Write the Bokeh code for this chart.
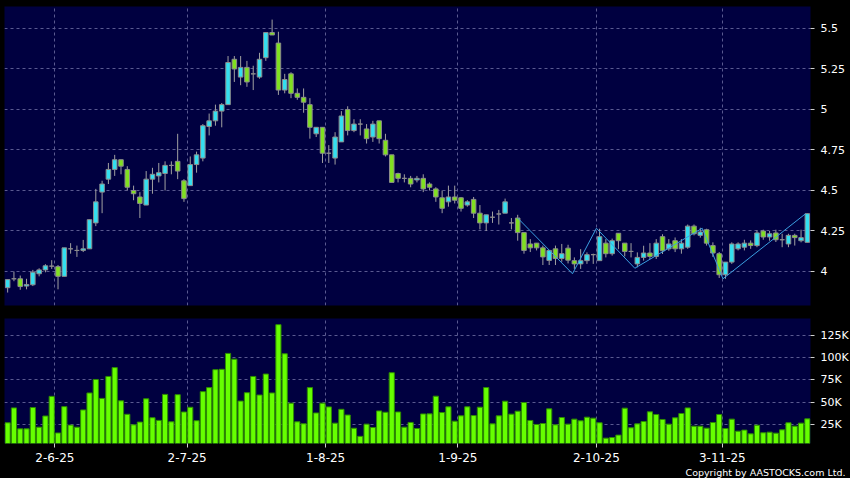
from bokeh.plotting import figure
from bokeh.layouts import column
from bokeh.models import FixedTicker, Range1d, Title, ColumnDataSource
from bokeh.embed import file_html
from bokeh.resources import INLINE

# ---------------- data ----------------
opens = [3.90, 3.955, 3.955, 3.91, 3.918, 3.986, 4.01, 4.033, 4.03, 3.97,
         4.14, 4.13, 4.13, 4.14, 4.30, 4.49, 4.57, 4.63, 4.69, 4.63,
         4.50, 4.46, 4.41, 4.57, 4.59, 4.605, 4.655, 4.68, 4.56, 4.53,
         4.66, 4.70, 4.895, 4.93, 4.99, 5.03, 5.31, 5.20, 5.26, 5.22,
         5.20, 5.32, 5.475, 5.41, 5.12, 5.22, 5.10, 5.075, 5.03, 4.85,
         4.89, 4.73, 4.70, 4.80, 5.00, 4.87, 4.91, 4.88, 4.83, 4.93,
         4.81, 4.72, 4.605, 4.575, 4.575, 4.565, 4.575, 4.54, 4.51, 4.455,
         4.43, 4.46, 4.455, 4.41, 4.445, 4.36, 4.30, 4.335, 4.355, 4.36,
         4.30, 4.33, 4.24, 4.17, 4.175, 4.146, 4.068, 4.14, 4.08, 4.144,
         4.067, 4.047, 4.067, 4.104, 4.067, 4.175, 4.11, 4.236, 4.175, 4.124,
         4.047, 4.087, 4.114, 4.093, 4.215, 4.14, 4.19, 4.14, 4.15, 4.28,
         4.223, 4.258, 4.16, 4.11, 3.98, 4.058, 4.14, 4.15, 4.175, 4.16,
         4.25, 4.213, 4.238, 4.196, 4.17, 4.223, 4.19, 4.18]
highs = [3.95, 4.00, 3.975, 3.955, 4.01, 4.02, 4.045, 4.07, 4.04, 4.146,
         4.175, 4.16, 4.195, 4.32, 4.51, 4.56, 4.67, 4.72, 4.69, 4.65,
         4.53, 4.49, 4.62, 4.64, 4.67, 4.68, 4.68, 4.85, 4.57, 4.71,
         4.74, 4.91, 4.975, 5.03, 5.04, 5.33, 5.33, 5.33, 5.30, 5.27,
         5.35, 5.475, 5.555, 5.48, 5.22, 5.23, 5.13, 5.13, 5.07, 4.89,
         4.89, 4.78, 4.86, 4.99, 5.02, 4.94, 4.94, 4.91, 4.93, 4.93,
         4.85, 4.72, 4.61, 4.60, 4.59, 4.59, 4.60, 4.55, 4.52, 4.50,
         4.53, 4.53, 4.46, 4.44, 4.46, 4.41, 4.35, 4.37, 4.38, 4.45,
         4.33, 4.35, 4.24, 4.20, 4.175, 4.16, 4.13, 4.16, 4.17, 4.165,
         4.087, 4.138, 4.118, 4.11, 4.264, 4.20, 4.203, 4.236, 4.175, 4.175,
         4.118, 4.159, 4.175, 4.20, 4.23, 4.20, 4.21, 4.20, 4.29, 4.29,
         4.27, 4.264, 4.18, 4.12, 4.058, 4.18, 4.18, 4.196, 4.192, 4.254,
         4.258, 4.25, 4.258, 4.233, 4.233, 4.233, 4.258, 4.357]
lows = [3.87, 3.94, 3.887, 3.89, 3.91, 3.97, 3.995, 4.016, 3.89, 3.97,
        4.11, 4.09, 4.12, 4.14, 4.28, 4.36, 4.54, 4.59, 4.60, 4.50,
        4.44, 4.33, 4.41, 4.48, 4.55, 4.50, 4.60, 4.57, 4.43, 4.53,
        4.61, 4.68, 4.84, 4.90, 4.89, 5.03, 5.17, 5.15, 5.14, 5.12,
        5.19, 5.30, 5.46, 5.09, 5.10, 5.07, 5.06, 4.98, 4.82, 4.83,
        4.67, 4.67, 4.66, 4.80, 4.84, 4.86, 4.84, 4.79, 4.80, 4.79,
        4.71, 4.55, 4.55, 4.55, 4.52, 4.55, 4.49, 4.50, 4.43, 4.36,
        4.40, 4.42, 4.37, 4.40, 4.33, 4.26, 4.25, 4.30, 4.29, 4.36,
        4.26, 4.19, 4.11, 4.12, 4.13, 4.04, 4.04, 4.04, 4.06, 4.05,
        4.016, 4.016, 4.047, 4.047, 4.067, 4.087, 4.098, 4.138, 4.093, 4.087,
        4.026, 4.067, 4.077, 4.077, 4.108, 4.128, 4.12, 4.11, 4.14, 4.223,
        4.209, 4.16, 4.09, 3.96, 3.955, 4.047, 4.13, 4.13, 4.14, 4.15,
        4.196, 4.19, 4.182, 4.15, 4.15, 4.16, 4.18, 4.18]
closes = [3.95, 3.955, 3.907, 3.92, 3.996, 4.01, 4.035, 4.033, 3.97, 4.146,
          4.14, 4.13, 4.14, 4.32, 4.43, 4.54, 4.63, 4.69, 4.65, 4.52,
          4.48, 4.42, 4.57, 4.60, 4.61, 4.655, 4.655, 4.62, 4.45, 4.66,
          4.72, 4.90, 4.93, 4.99, 5.03, 5.29, 5.25, 5.26, 5.17, 5.22,
          5.31, 5.475, 5.46, 5.12, 5.185, 5.10, 5.075, 5.045, 4.89, 4.89,
          4.73, 4.73, 4.83, 4.96, 4.87, 4.91, 4.91, 4.82, 4.91, 4.82,
          4.72, 4.55, 4.575, 4.575, 4.54, 4.575, 4.51, 4.52, 4.46, 4.39,
          4.46, 4.44, 4.39, 4.43, 4.36, 4.30, 4.35, 4.335, 4.355, 4.43,
          4.30, 4.24, 4.13, 4.146, 4.146, 4.09, 4.13, 4.08, 4.11, 4.07,
          4.047, 4.067, 4.104, 4.104, 4.215, 4.11, 4.19, 4.19, 4.124, 4.124,
          4.087, 4.114, 4.093, 4.175, 4.128, 4.17, 4.14, 4.175, 4.28, 4.233,
          4.244, 4.175, 4.114, 3.98, 4.058, 4.17, 4.17, 4.175, 4.16, 4.238,
          4.213, 4.233, 4.196, 4.196, 4.223, 4.209, 4.209, 4.357]
volumes = [26900, 43600, 20100, 20100, 44000, 22000, 34500, 56500, 15500, 45000,
           24300, 22000, 41300, 60300, 75400, 54200, 78800, 88700, 51500, 36400,
           24600, 27700, 53800, 32600, 29600, 58700, 28000, 58400, 39000, 44300,
           29200, 61800, 66300, 86400, 86800, 104600, 98200, 51200, 60600, 78800,
           58000, 81500, 60300, 136800, 104200, 48900, 28000, 25800, 66300, 37900,
           48900, 44700, 26500, 42000, 35600, 20800, 11700, 25400, 21600, 40200,
           38700, 83000, 39000, 22000, 27300, 20500, 36800, 36900, 56700, 38400,
           44800, 28700, 34700, 44800, 35000, 44400, 66400, 25700, 34700, 51100,
           36600, 39900, 49600, 29500, 25000, 26100, 42500, 24600, 32800, 25400,
           31000, 29100, 33200, 32100, 26900, 9700, 10400, 13100, 43300, 21300,
           25700, 28300, 39200, 36200, 30600, 25400, 32500, 37300, 43600, 23100,
           23100, 20900, 27200, 36200, 20500, 31000, 17500, 18700, 14500, 24200,
           15700, 16400, 15300, 19000, 26900, 23100, 26500, 31300]

# first trading day of each month (bar index) and its label
month_start_idx = [8, 29, 51, 72, 94, 114]
month_labels = ["2-6-25", "2-7-25", "1-8-25", "1-9-25", "2-10-25", "3-11-25"]

price_ticks = [4.0, 4.25, 4.5, 4.75, 5.0, 5.25, 5.5]
price_labels = ["4", "4.25", "4.5", "4.75", "5", "5.25", "5.5"]
vol_ticks = [25000, 50000, 75000, 100000, 125000]
vol_labels = ["25K", "50K", "75K", "100K", "125K"]

# zig-zag trend line (bar index, price)
zz_idx = [81, 89.7, 93.5, 99.6, 110.3, 113.6, 126.7]
zz_price = [4.33, 3.986, 4.267, 4.02, 4.267, 3.955, 4.356]

copyright_text = "Copyright by AASTOCKS.com Ltd."

# ---------------- styling ----------------
UP = "#33dff0"
DOWN = "#80e020"
EDGE = "#8c8c8c"
BG = "#000040"
GRID = "#5a5a90"
FONT = "DejaVu Sans"

n = len(opens)
idx = list(range(n))
src = ColumnDataSource(dict(
    x=idx,
    top=[max(o, c) for o, c in zip(opens, closes)],
    bottom=[min(o, c) for o, c in zip(opens, closes)],
    high=highs, low=lows,
    color=[UP if c > o else DOWN for o, c in zip(opens, closes)],
    vol=volumes,
))

x_rng = Range1d(-0.5, n - 0.5)
month_ticks = [i - 0.5 for i in month_start_idx]


def style(p):
    p.background_fill_color = BG
    p.border_fill_color = "#000000"
    p.outline_line_color = None
    p.min_border_left = 4
    p.min_border_right = 40


# ---------------- price panel ----------------
p1 = figure(frame_width=806, frame_height=299, x_range=x_rng,
            y_range=Range1d(3.7901, 5.6358),
            x_axis_location=None, y_axis_location="right",
            output_backend="svg", toolbar_location=None, tools="")
style(p1)
p1.min_border_top = 6
p1.min_border_bottom = 13

p1.segment(x0="x", y0="low", x1="x", y1="high", source=src,
           line_color="#a0a0a0", line_width=1)
p1.vbar(x="x", top="top", bottom="bottom", width=0.72, source=src,
        fill_color="color", line_color=EDGE, line_width=1)
p1.line(zz_idx, zz_price, line_color="#3a9ee0", line_width=1)

p1.yaxis.ticker = FixedTicker(ticks=price_ticks)
p1.yaxis.major_label_overrides = dict(zip(price_ticks, price_labels))
p1.xgrid.ticker = FixedTicker(ticks=month_ticks)

# ---------------- volume panel ----------------
p2 = figure(frame_width=806, frame_height=125, x_range=x_rng,
            y_range=Range1d(3700, 143700),
            x_axis_location="below", y_axis_location="right",
            output_backend="svg", toolbar_location=None, tools="")
style(p2)
p2.min_border_top = 0
p2.min_border_bottom = 35

p2.vbar(x="x", top="vol", bottom=0, width=0.82, source=src,
        fill_color="#66ff00", line_color="#2e8c00", line_width=1)

p2.yaxis.ticker = FixedTicker(ticks=vol_ticks)
p2.yaxis.major_label_overrides = dict(zip(vol_ticks, vol_labels))
p2.xaxis.ticker = FixedTicker(ticks=month_ticks)
p2.xaxis.major_label_overrides = dict(zip(month_ticks, month_labels))

for p in (p1, p2):
    for g in (p.xgrid, p.ygrid):
        g.grid_line_color = GRID
        g.grid_line_dash = "3 3"
        g.grid_line_width = 1

axes = [p1.yaxis[0], p2.yaxis[0], p2.xaxis[0]]
for ax in axes:
    ax.axis_line_color = None
    ax.major_tick_line_color = "#d0d0d0"
    ax.major_tick_out = 4
    ax.major_tick_in = 0
    ax.minor_tick_line_color = None
    ax.major_label_text_color = "#ffffff"
    ax.major_label_text_font = FONT
    ax.major_label_text_font_size = "11px"
    ax.major_label_standoff = 6
p2.xaxis.major_label_text_font_size = "12px"
p2.xaxis.major_label_standoff = 5

cr = Title(text=copyright_text, align="right", text_font_size="9.5px",
           text_color="#ffffff", text_font=FONT, text_font_style="normal",
           standoff=0, offset=-35)
p2.add_layout(cr, "below")

layout = column(p1, p2, spacing=0)
layout.styles = {"background-color": "#000000"}

html = file_html(layout, INLINE, "chart")
html = html.replace("<body>", '<body style="background-color:#000000;">', 1)
open("out.html", "w").write(html)
